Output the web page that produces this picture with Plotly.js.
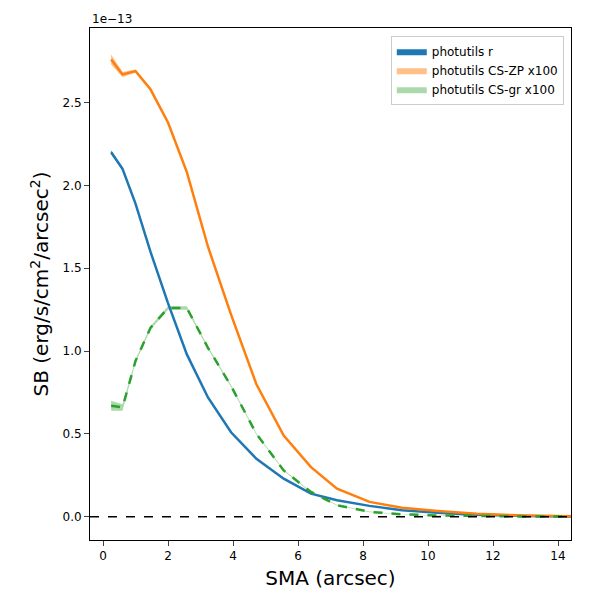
<!DOCTYPE html>
<html><head><script src="https://cdn.plot.ly/plotly-3.0.1.min.js"></script></head>
<body style="margin:0"><div id="plot" style="width:600px;height:600px"></div>
<script>
// SB profiles in units of 1e-13
var sma = [0.25, 0.6, 1.0, 1.46, 2.0, 2.58, 3.23, 3.94, 4.72, 5.56, 6.4, 7.2, 8.2, 9.2, 10.3, 11.5, 13.0, 14.4];
var sbR = [2.20, 2.10, 1.89, 1.60, 1.29, 0.98, 0.72, 0.51, 0.35, 0.23, 0.14, 0.10, 0.066, 0.04, 0.025, 0.012, 0.005, 0.002];
var sbZP = [2.76, 2.67, 2.69, 2.58, 2.38, 2.08, 1.63, 1.22, 0.80, 0.49, 0.30, 0.17, 0.09, 0.055, 0.035, 0.018, 0.008, 0.003];
var sbGR = [0.67, 0.66, 0.94, 1.14, 1.26, 1.26, 1.02, 0.79, 0.50, 0.28, 0.15, 0.07, 0.03, 0.015, 0.008, 0.004, 0.002, 0.001];
var errZP = [0.03, 0.015, 0.01, 0.01, 0.01, 0.01, 0.008, 0.006, 0.005, 0.004, 0.003, 0.002, 0.002, 0.001, 0.001, 0.001, 0.001, 0.001];
var errGR = [0.03, 0.02, 0.01, 0.01, 0.01, 0.01, 0.008, 0.006, 0.005, 0.004, 0.003, 0.002, 0.002, 0.001, 0.001, 0.001, 0.001, 0.001];
var errR = [0.01, 0.01, 0.005, 0.005, 0.005, 0.004, 0.003, 0.003, 0.002, 0.002, 0.001, 0.001, 0.001, 0.001, 0.001, 0.001, 0.001, 0.001];

function band(y, err, sign){ return y.map(function(v, i){ return v + sign * err[i]; }); }

var blue = '#1f77b4', orange = '#ff7f0e', green = '#2ca02c';
var data = [
  {x: sma, y: band(sbR, errR, -1), mode: 'lines', line: {width: 0, color: blue}, showlegend: false, hoverinfo: 'skip'},
  {x: sma, y: band(sbR, errR, 1), mode: 'lines', fill: 'tonexty', fillcolor: blue, line: {width: 0, color: blue}, name: 'photutils r'},
  {x: sma, y: band(sbZP, errZP, -1), mode: 'lines', line: {width: 0}, showlegend: false, hoverinfo: 'skip'},
  {x: sma, y: band(sbZP, errZP, 1), mode: 'lines', fill: 'tonexty', fillcolor: 'rgba(255,127,14,0.5)', line: {width: 0, color: 'rgba(255,127,14,0.5)'}, name: 'photutils CS-ZP x100'},
  {x: sma, y: band(sbGR, errGR, -1), mode: 'lines', line: {width: 0}, showlegend: false, hoverinfo: 'skip'},
  {x: sma, y: band(sbGR, errGR, 1), mode: 'lines', fill: 'tonexty', fillcolor: 'rgba(44,160,44,0.4)', line: {width: 0, color: 'rgba(44,160,44,0.4)'}, name: 'photutils CS-gr x100'},
  {x: sma, y: sbR, mode: 'lines', line: {color: blue, width: 2.5}, showlegend: false},
  {x: sma, y: sbZP, mode: 'lines', line: {color: orange, width: 2.5}, showlegend: false},
  {x: sma, y: sbGR, mode: 'lines', line: {color: green, width: 2.5, dash: 'dash'}, showlegend: false},
  {x: [-0.4, 14.4], y: [0, 0], mode: 'lines', line: {color: 'black', width: 1.5, dash: 'dash'}, showlegend: false}
];

var layout = {
  width: 600, height: 600,
  margin: {l: 90, r: 29, t: 28, b: 60},
  font: {family: 'DejaVu Sans', size: 12, color: 'black'},
  plot_bgcolor: 'white', paper_bgcolor: 'white',
  showlegend: true,
  legend: {x: 0.985, y: 0.985, xanchor: 'right', yanchor: 'top', traceorder: 'normal', bordercolor: '#ccc', borderwidth: 1, font: {size: 12}},
  xaxis: {range: [-0.4, 14.4], tickvals: [0, 2, 4, 6, 8, 10, 12, 14], ticks: 'outside', showgrid: false, zeroline: false,
    showline: true, mirror: true, linecolor: 'black', title: {text: 'SMA (arcsec)', font: {size: 20}, standoff: 8}},
  yaxis: {range: [-0.14, 2.95], tickvals: [0, 0.5, 1, 1.5, 2, 2.5], ticktext: ['0.0', '0.5', '1.0', '1.5', '2.0', '2.5'],
    ticks: 'outside', showgrid: false, zeroline: false, showline: true, mirror: true, linecolor: 'black',
    title: {text: 'SB (erg/s/cm<sup>2</sup>/arcsec<sup>2</sup>)', font: {size: 20}, standoff: 8}},
  annotations: [{text: '1e\u221213', xref: 'paper', yref: 'paper', x: 0, y: 1, xanchor: 'left', yanchor: 'bottom', showarrow: false, font: {size: 12}}]
};

Plotly.newPlot('plot', data, layout, {displayModeBar: false});
</script></body></html>
